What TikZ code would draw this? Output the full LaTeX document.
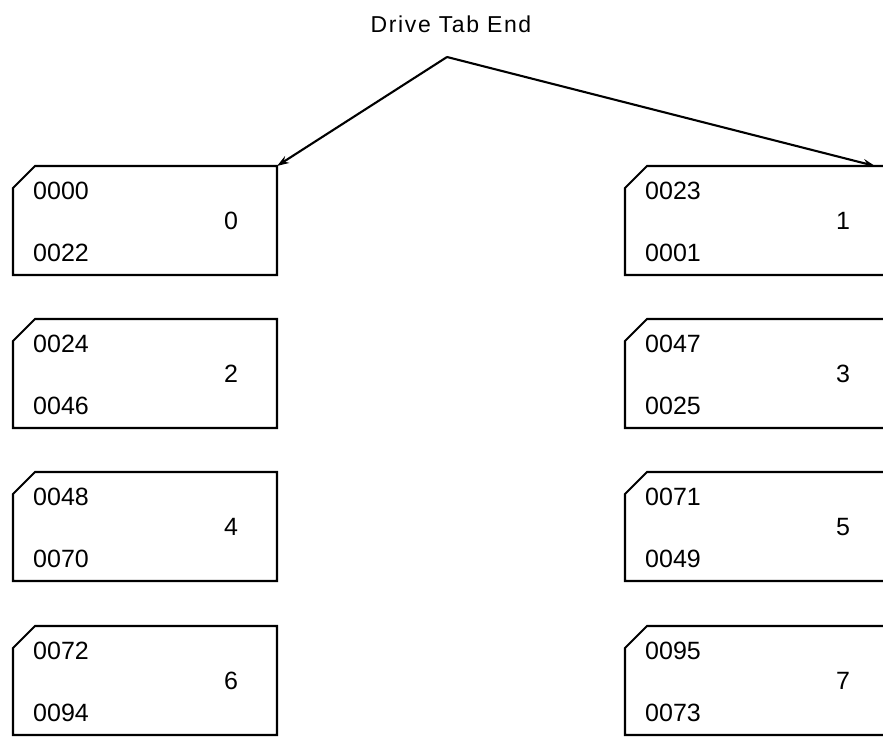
\documentclass[tikz,border=0pt]{standalone}
\usepackage{fontspec}
\setmainfont{Liberation Sans}
\usetikzlibrary{arrows.meta}
\tikzset{
  card/.style={line width=2.1pt, line join=miter},
  lab/.style={font=\fontsize{25}{27}\selectfont, inner sep=0pt, anchor=west},
  num/.style={font=\fontsize{25}{27}\selectfont, inner sep=0pt},
  conn/.style={line width=2.1pt, -{Stealth[length=12pt,width=8pt]}},
  title/.style={font=\fontsize{23}{25}\selectfont\addfontfeature{LetterSpace=7}, inner sep=0pt}
}
\begin{document}
\begin{tikzpicture}[x=1pt,y=-1pt]
\useasboundingbox (0,0) rectangle (883,738);
\clip (0,0) rectangle (883,738);
% title
\node[title] (title) at (451,24) {Drive Tab End};
\coordinate (apex) at (447,57);
% cards
\foreach \nm/\xl/\xr/\yt/\ta/\tb/\n in {
  c0/13/277/166/0000/0022/0,
  c1/625/900/166/0023/0001/1,
  c2/13/277/319/0024/0046/2,
  c3/625/900/319/0047/0025/3,
  c4/13/277/472/0048/0070/4,
  c5/625/900/472/0071/0049/5,
  c6/13/277/626/0072/0094/6,
  c7/625/900/626/0095/0073/7}{
  \draw[card] (\xl+22,\yt) -- (\xr,\yt) -- (\xr,\yt+109) -- (\xl,\yt+109) -- (\xl,\yt+22) -- cycle;
  \coordinate (\nm-tr) at (\xr,\yt);
  \node[lab] (\nm-a) at (\xl+20,\yt+25) {\ta};
  \node[lab] (\nm-b) at (\xl+20,\yt+87) {\tb};
  \node[num] (\nm-n) at (\xl+218,\yt+55) {\n};
}
\coordinate (c1-tip) at (875,166);
\draw[conn] (apex) -- (c0-tr);
\draw[conn] (apex) -- (c1-tip);
\end{tikzpicture}
\end{document}
